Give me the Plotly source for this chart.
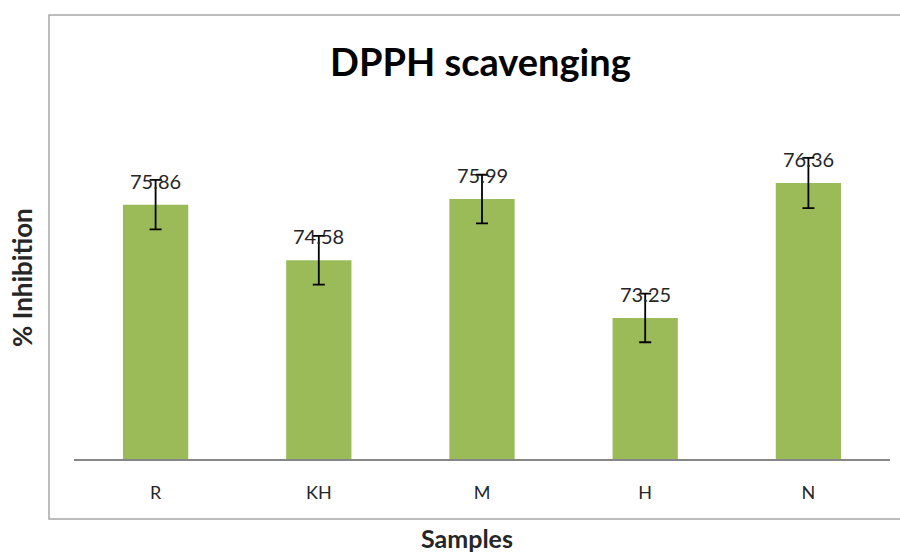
import plotly.graph_objects as go

categories = ["R", "KH", "M", "H", "N"]
inhibition = [75.86, 74.58, 75.99, 73.25, 76.36]
errors = [0.57, 0.56, 0.56, 0.56, 0.58]
labels = ["75.86", "74.58", "75.99", "73.25", "76.36"]

W, H = 900, 554
ML, MR, MT, MB = 74, 10, 30, 95
PW, PH = W - ML - MR, H - MT - MB

def px_x(px):
    return (px - ML) / PW

def px_y(py):
    return (H - MB - py) / PH

FONT = "Lato, Open Sans, sans-serif"

fig = go.Figure()
fig.add_trace(go.Bar(
    x=categories, y=inhibition,
    marker=dict(color="#9BBB59", line=dict(width=0)),
    width=0.4,
    error_y=dict(type="data", array=errors, visible=True, color="#000000",
                 thickness=1.8, width=6),
))

annotations = []
for c, v, t in zip(categories, inhibition, labels):
    annotations.append(dict(x=c, y=v, text=t, showarrow=False, xref="x", yref="y",
                            xanchor="center", yanchor="middle",
                            yshift=24, font=dict(family=FONT, size=20, color="#262626")))

annotations.append(dict(x=px_x(480), y=px_y(61), xref="paper", yref="paper",
                        xanchor="center", yanchor="middle",
                        text="<b>DPPH scavenging</b>", showarrow=False,
                        font=dict(family=FONT, size=38, color="#000000")))
annotations.append(dict(x=px_x(467), y=px_y(538), xref="paper", yref="paper",
                        xanchor="center", yanchor="middle",
                        text="<b>Samples</b>", showarrow=False,
                        font=dict(family=FONT, size=25, color="#262626")))
annotations.append(dict(x=px_x(22), y=px_y(278), xref="paper", yref="paper",
                        xanchor="center", yanchor="middle",
                        text="<b>% Inhibition</b>", showarrow=False, textangle=-90,
                        font=dict(family=FONT, size=26, color="#262626")))

fig.update_layout(
    width=W, height=H,
    margin=dict(l=ML, r=MR, t=MT, b=MB, autoexpand=False),
    paper_bgcolor="white", plot_bgcolor="white",
    showlegend=False,
    annotations=annotations,
    shapes=[dict(type="rect", xref="paper", yref="paper",
                 x0=px_x(49), x1=px_x(905), y0=px_y(519), y1=px_y(15),
                 line=dict(color="#A6A6A6", width=1.5), layer="below")],
    xaxis=dict(showline=True, linecolor="#868686", linewidth=1.5,
               ticks="outside", ticklen=17, tickcolor="rgba(0,0,0,0)",
               tickfont=dict(family=FONT, size=18, color="#262626"),
               showgrid=False, zeroline=False, automargin=False),
    yaxis=dict(range=[70, 70 + PH / 43.4], showticklabels=False, showgrid=False,
               zeroline=False, showline=False, ticks="", automargin=False),
)

fig.write_html("out.html", config={"displayModeBar": False},
               post_script="document.body.style.margin='0';")
